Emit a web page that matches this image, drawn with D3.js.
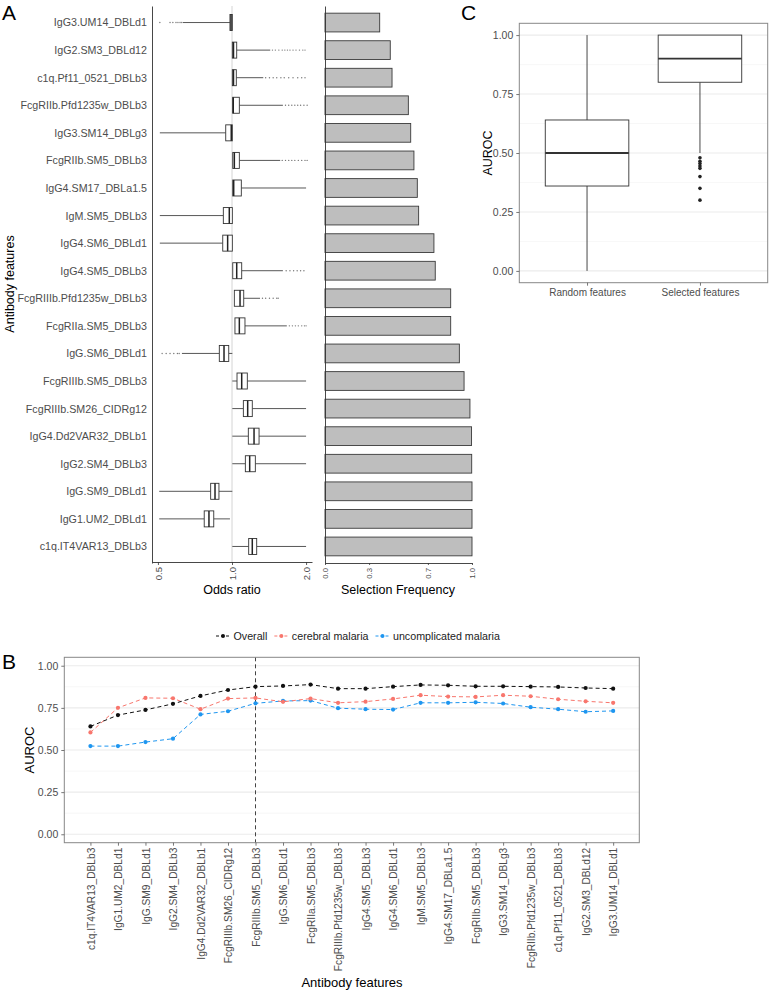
<!DOCTYPE html>
<html><head><meta charset="utf-8">
<script src="https://cdn.jsdelivr.net/npm/d3@7"></script>
<style>
body{margin:0;background:#fff}
text{font-family:"Liberation Sans",Arial,sans-serif}
</style></head>
<body><svg id="c" width="769" height="991"></svg>
<script>
// ---------------- DATA ----------------
const features = ["IgG3.UM14_DBLd1","IgG2.SM3_DBLd12","c1q.Pf11_0521_DBLb3","FcgRIIb.Pfd1235w_DBLb3","IgG3.SM14_DBLg3","FcgRIIb.SM5_DBLb3","IgG4.SM17_DBLa1.5","IgM.SM5_DBLb3","IgG4.SM6_DBLd1","IgG4.SM5_DBLb3","FcgRIIIb.Pfd1235w_DBLb3","FcgRIIa.SM5_DBLb3","IgG.SM6_DBLd1","FcgRIIIb.SM5_DBLb3","FcgRIIIb.SM26_CIDRg12","IgG4.Dd2VAR32_DBLb1","IgG2.SM4_DBLb3","IgG.SM9_DBLd1","IgG1.UM2_DBLd1","c1q.IT4VAR13_DBLb3"];
const orQ1  = [0.981,1.003,1.003,1.007,0.943,1.007,1.007,0.922,0.917,1.007,1.022,1.028,0.888,1.048,1.112,1.165,1.133,0.819,0.771,1.169];
const orMed = [0.991,1.014,1.014,1.012,0.993,1.022,1.016,0.975,0.960,1.045,1.078,1.071,0.928,1.095,1.158,1.229,1.180,0.853,0.806,1.209];
const orQ3  = [1.003,1.045,1.041,1.071,1.003,1.071,1.091,1.003,1.003,1.095,1.116,1.129,0.970,1.154,1.209,1.288,1.244,0.885,0.843,1.260];
const orLow = [0.632,1.003,1.003,1.007,0.509,1.007,1.007,0.509,0.509,1.007,1.022,1.028,0.626,1.003,1.003,1.003,1.003,0.506,0.506,1.003];
const orHigh= [1.003,1.43,1.34,1.61,1.003,1.57,2.0,1.003,1.003,1.61,1.30,1.67,1.003,2.0,2.0,2.0,2.0,1.003,0.981,2.0];
const orOutliers = [
  [0.509,0.56,0.575,0.592,0.603,0.615,0.625],
  [1.46,1.50,1.55,1.60,1.64,1.68,1.72,1.77,1.82,1.88,1.94,1.98],
  [1.37,1.42,1.47,1.52,1.58,1.63,1.70,1.77,1.85,1.92,1.98],
  [1.65,1.70,1.75,1.80,1.85,1.90,1.96,2.02],
  [],
  [1.60,1.65,1.70,1.75,1.80,1.86,1.92,1.98,2.02],
  [],[],[],
  [1.66,1.72,1.78,1.84,1.90,1.96],
  [1.33,1.37,1.42,1.47,1.52,1.54],
  [1.71,1.76,1.81,1.86,1.92,1.97,2.0],
  [0.52,0.54,0.56,0.58,0.60,0.61],
  [],[],[],[],[],[],[]
];
const selectionFrequency = [0.372,0.444,0.456,0.567,0.583,0.605,0.628,0.637,0.741,0.750,0.855,0.855,0.914,0.946,0.986,0.997,0.998,1.0,1.0,1.0];
const oddsTicks = [0.5,1.0,2.0];
const freqTicks = [0,0.3,0.7,1.0];

const cGroups = ["Random features","Selected features"];
const cQ1 = [0.36,0.80], cMed = [0.50,0.90], cQ3 = [0.64,1.00], cLow = [0.0,0.50], cHigh = [1.0,1.0];
const cOutliers = [[],[0.48,0.465,0.455,0.445,0.435,0.40,0.35,0.30]];
const aurocTicks = [0,0.25,0.5,0.75,1.0];
const aurocMinor = [0.125,0.375,0.625,0.875];

const bFeatures = ["c1q.IT4VAR13_DBLb3","IgG1.UM2_DBLd1","IgG.SM9_DBLd1","IgG2.SM4_DBLb3","IgG4.Dd2VAR32_DBLb1","FcgRIIIb.SM26_CIDRg12","FcgRIIIb.SM5_DBLb3","IgG.SM6_DBLd1","FcgRIIa.SM5_DBLb3","FcgRIIIb.Pfd1235w_DBLb3","IgG4.SM5_DBLb3","IgG4.SM6_DBLd1","IgM.SM5_DBLb3","IgG4.SM17_DBLa1.5","FcgRIIb.SM5_DBLb3","IgG3.SM14_DBLg3","FcgRIIb.Pfd1235w_DBLb3","c1q.Pf11_0521_DBLb3","IgG2.SM3_DBLd12","IgG3.UM14_DBLd1"];
const overall       = [0.640,0.707,0.738,0.774,0.821,0.856,0.876,0.880,0.888,0.864,0.864,0.876,0.886,0.884,0.878,0.878,0.876,0.874,0.868,0.864];
const cerebral      = [0.604,0.750,0.809,0.807,0.742,0.805,0.809,0.786,0.805,0.780,0.787,0.803,0.825,0.817,0.815,0.825,0.819,0.801,0.789,0.780];
const uncomplicated = [0.523,0.523,0.547,0.567,0.711,0.730,0.777,0.791,0.793,0.748,0.742,0.740,0.780,0.780,0.783,0.776,0.754,0.742,0.727,0.732];
const seriesNames = ["Overall","cerebral malaria","uncomplicated malaria"];
const seriesColors = ["#111111","#F8766D","#1E96F0"];
const cutFeature = "FcgRIIIb.SM5_DBLb3";

// ---------------- DRAW ----------------
const svg = d3.select("#c");
const TXT = "#4d4d4d";
const AX = "#333333";

function styleAxis(g, fs){
  g.selectAll("path.domain").attr("stroke", AX).attr("stroke-width", 0.9);
  g.selectAll(".tick line").attr("stroke", AX).attr("stroke-width", 0.8);
  g.selectAll(".tick text").attr("fill", TXT).attr("font-size", fs)
    .attr("font-family", '"Liberation Sans", Arial, sans-serif');
}

// Panel letters
svg.append("text").attr("x",2).attr("y",20).attr("font-size",21).text("A");
svg.append("text").attr("x",461).attr("y",20).attr("font-size",21).text("C");
svg.append("text").attr("x",2).attr("y",669).attr("font-size",21).text("B");

// ----- Panel A: odds ratio boxplots -----
const yA = d3.scalePoint().domain(features).range([6,563]).padding(0.6);
const stepA = yA.step();
const xOR = d3.scaleLog().base(2).domain([0.473, 2.114]).range([152, 312]);
const gA = svg.append("g");
gA.append("line").attr("x1",xOR(1)).attr("x2",xOR(1)).attr("y1",6).attr("y2",562)
  .attr("stroke","#c9c9c9").attr("stroke-width",0.8);
features.forEach((f,i)=>{
  const cy = yA(f), bh = stepA*0.58;
  gA.append("line").attr("x1",xOR(orLow[i])).attr("x2",xOR(orQ1[i])).attr("y1",cy).attr("y2",cy)
    .attr("stroke","#444").attr("stroke-width",0.9);
  gA.append("line").attr("x1",xOR(orQ3[i])).attr("x2",xOR(orHigh[i])).attr("y1",cy).attr("y2",cy)
    .attr("stroke","#444").attr("stroke-width",0.9);
  orOutliers[i].forEach(v=>{
    gA.append("circle").attr("cx",xOR(v)).attr("cy",cy).attr("r",0.7).attr("fill","#777");
  });
  gA.append("rect").attr("x",xOR(orQ1[i])).attr("y",cy-bh/2)
    .attr("width",Math.max(1,xOR(orQ3[i])-xOR(orQ1[i]))).attr("height",bh)
    .attr("fill","#fff").attr("stroke","#333").attr("stroke-width",0.9);
  gA.append("line").attr("x1",xOR(orMed[i])).attr("x2",xOR(orMed[i])).attr("y1",cy-bh/2).attr("y2",cy+bh/2)
    .attr("stroke","#222").attr("stroke-width",1.5);
});
const axAy = gA.append("g").attr("transform","translate(152,0)")
  .call(d3.axisLeft(yA).tickSize(0).tickSizeOuter(0).tickPadding(5));
styleAxis(axAy, 10.7);
const axAx = gA.append("g").attr("transform","translate(0,562)")
  .call(d3.axisBottom(xOR).tickValues(oddsTicks).tickFormat(d3.format(".1f")).tickSize(3).tickSizeOuter(0));
styleAxis(axAx, 9.5);
axAx.selectAll(".tick text").attr("transform","rotate(-90)").attr("text-anchor","end")
  .attr("x",-5).attr("y",0).attr("dy","0.35em");
gA.append("text").attr("x",232).attr("y",594).attr("text-anchor","middle").attr("font-size",12.5).text("Odds ratio");
gA.append("text").attr("transform","translate(14,284) rotate(-90)").attr("text-anchor","middle")
  .attr("font-size",12.5).text("Antibody features");

// ----- Panel A: selection frequency bars -----
const xF = d3.scaleLinear().domain([0,1]).range([325,472]);
const gF = svg.append("g");
features.forEach((f,i)=>{
  const bh = stepA*0.68;
  gF.append("rect").attr("x",xF(0)).attr("y",yA(f)-bh/2)
    .attr("width",xF(selectionFrequency[i])-xF(0)).attr("height",bh)
    .attr("fill","#bebebe").attr("stroke","#3a3a3a").attr("stroke-width",0.9);
});
const axFy = gF.append("g").attr("transform","translate(325,0)")
  .call(d3.axisLeft(yA).tickSize(0).tickSizeOuter(0).tickFormat(""));
styleAxis(axFy, 8);
const axFx = gF.append("g").attr("transform","translate(0,563)")
  .call(d3.axisBottom(xF).tickValues(freqTicks).tickFormat(d3.format(".1f")).tickSize(2).tickSizeOuter(0));
styleAxis(axFx, 7.8);
axFx.selectAll(".tick text").attr("transform","rotate(-90)").attr("text-anchor","end")
  .attr("x",-5).attr("y",0).attr("dy","0.35em");
gF.append("text").attr("x",398).attr("y",594).attr("text-anchor","middle").attr("font-size",12.5).text("Selection Frequency");

// ----- Panel C -----
const cL=519.3, cR=767.7, cT=23.3, cB=282.7;
const xC = d3.scalePoint().domain(cGroups).range([cL,cR]).padding(0.6);
const yC = d3.scaleLinear().domain([-0.05,1.05]).range([cB,cT]);
const gC = svg.append("g");
aurocMinor.forEach(v=>gC.append("line").attr("x1",cL).attr("x2",cR).attr("y1",yC(v)).attr("y2",yC(v))
  .attr("stroke","#f2f2f2").attr("stroke-width",0.6));
aurocTicks.forEach(v=>gC.append("line").attr("x1",cL).attr("x2",cR).attr("y1",yC(v)).attr("y2",yC(v))
  .attr("stroke","#ebebeb").attr("stroke-width",1.1));
cGroups.forEach((g,i)=>{
  const cx = xC(g), bw = xC.step()*0.74;
  gC.append("line").attr("x1",cx).attr("x2",cx).attr("y1",yC(cLow[i])).attr("y2",yC(cQ1[i])).attr("stroke","#333").attr("stroke-width",0.9);
  gC.append("line").attr("x1",cx).attr("x2",cx).attr("y1",yC(cQ3[i])).attr("y2",yC(cHigh[i])).attr("stroke","#333").attr("stroke-width",0.9);
  gC.append("rect").attr("x",cx-bw/2).attr("y",yC(cQ3[i])).attr("width",bw).attr("height",yC(cQ1[i])-yC(cQ3[i]))
    .attr("fill","#fff").attr("stroke","#333").attr("stroke-width",0.9);
  gC.append("line").attr("x1",cx-bw/2).attr("x2",cx+bw/2).attr("y1",yC(cMed[i])).attr("y2",yC(cMed[i]))
    .attr("stroke","#333").attr("stroke-width",1.8);
  cOutliers[i].forEach(v=>gC.append("circle").attr("cx",cx).attr("cy",yC(v)).attr("r",1.8).attr("fill","#222"));
});
gC.append("rect").attr("x",cL).attr("y",cT).attr("width",cR-cL).attr("height",cB-cT)
  .attr("fill","none").attr("stroke","#888").attr("stroke-width",1);
const axCy = gC.append("g").attr("transform",`translate(${cL},0)`)
  .call(d3.axisLeft(yC).tickValues(aurocTicks).tickFormat(d3.format(".2f")).tickSize(3).tickSizeOuter(0));
styleAxis(axCy, 10.5); axCy.select("path.domain").remove();
axCy.selectAll(".tick line").attr("stroke","#555");
const axCx = gC.append("g").attr("transform",`translate(0,${cB})`)
  .call(d3.axisBottom(xC).tickSize(3).tickSizeOuter(0));
styleAxis(axCx, 10); axCx.select("path.domain").remove();
axCx.selectAll(".tick line").attr("stroke","#555");
gC.append("text").attr("transform","translate(492,153) rotate(-90)").attr("text-anchor","middle")
  .attr("font-size",12.5).text("AUROC");

// ----- Panel B -----
const bL=64.3, bR=639.3, bT=657.3, bB=842.7;
const xB = d3.scalePoint().domain(bFeatures).range([bL,bR]).padding(0.95);
const yB = d3.scaleLinear().domain([-0.05,1.05]).range([bB,bT]);
const gB = svg.append("g");
aurocMinor.forEach(v=>gB.append("line").attr("x1",bL).attr("x2",bR).attr("y1",yB(v)).attr("y2",yB(v))
  .attr("stroke","#f2f2f2").attr("stroke-width",0.6));
aurocTicks.forEach(v=>gB.append("line").attr("x1",bL).attr("x2",bR).attr("y1",yB(v)).attr("y2",yB(v))
  .attr("stroke","#ebebeb").attr("stroke-width",1.1));
gB.append("line").attr("x1",xB(cutFeature)).attr("x2",xB(cutFeature)).attr("y1",bT).attr("y2",bB)
  .attr("stroke","#444").attr("stroke-width",1).attr("stroke-dasharray","4,3");
const allSeries = [overall, cerebral, uncomplicated];
const lineGen = d3.line().x((d,i)=>xB(bFeatures[i])).y(d=>yB(d));
[2,1,0].forEach(s=>{
  gB.append("path").datum(allSeries[s]).attr("d",lineGen).attr("fill","none")
    .attr("stroke",seriesColors[s]).attr("stroke-width",1).attr("stroke-dasharray","4,3");
  allSeries[s].forEach((v,i)=>gB.append("circle").attr("cx",xB(bFeatures[i])).attr("cy",yB(v))
    .attr("r",2.1).attr("fill",seriesColors[s]));
});
gB.append("rect").attr("x",bL).attr("y",bT).attr("width",bR-bL).attr("height",bB-bT)
  .attr("fill","none").attr("stroke","#888").attr("stroke-width",1);
const axBy = gB.append("g").attr("transform",`translate(${bL},0)`)
  .call(d3.axisLeft(yB).tickValues(aurocTicks).tickFormat(d3.format(".2f")).tickSize(3).tickSizeOuter(0));
styleAxis(axBy, 10.5); axBy.select("path.domain").remove();
axBy.selectAll(".tick line").attr("stroke","#555");
const axBx = gB.append("g").attr("transform",`translate(0,${bB})`)
  .call(d3.axisBottom(xB).tickSize(3).tickSizeOuter(0));
styleAxis(axBx, 10.2); axBx.select("path.domain").remove();
axBx.selectAll(".tick line").attr("stroke","#555");
axBx.selectAll(".tick text").attr("transform","rotate(-90)").attr("text-anchor","end")
  .attr("x",-5).attr("y",0).attr("dy","0.35em");
gB.append("text").attr("x",352).attr("y",987).attr("text-anchor","middle").attr("font-size",13).text("Antibody features");
gB.append("text").attr("transform","translate(34,750) rotate(-90)").attr("text-anchor","middle")
  .attr("font-size",13).text("AUROC");

// Legend
const gL = svg.append("g");
let lx = 216;
seriesNames.forEach((n,s)=>{
  gL.append("line").attr("x1",lx).attr("x2",lx+14).attr("y1",636).attr("y2",636)
    .attr("stroke",seriesColors[s]).attr("stroke-width",1).attr("stroke-dasharray","3,2");
  gL.append("circle").attr("cx",lx+7).attr("cy",636).attr("r",2).attr("fill",seriesColors[s]);
  const t = gL.append("text").attr("x",lx+17.5).attr("y",636).attr("dy","0.35em")
    .attr("font-size",10.7).attr("fill","#222").text(n);
  lx = lx + 17.5 + t.node().getComputedTextLength() + 7;
});
</script>
</body></html>
